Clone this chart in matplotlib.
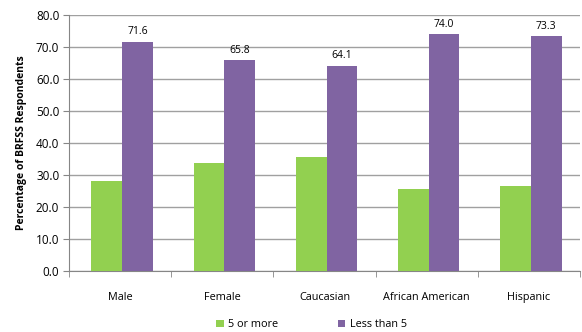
import matplotlib
matplotlib.use("Agg")
import matplotlib.pyplot as plt
import numpy as np

categories = ["Male", "Female", "Caucasian", "African American", "Hispanic"]
five_or_more = [28.0, 33.9, 35.7, 25.6, 26.6]
less_than_5 = [71.6, 65.8, 64.1, 74.0, 73.3]
yticks = [0, 10, 20, 30, 40, 50, 60, 70, 80]

plt.rcParams['font.family'] = ['Open Sans', 'DejaVu Sans']

fig = plt.figure(figsize=(5.82, 3.32), dpi=100)
ax = fig.add_axes([69/582, 1-271/332, 511/582, 256/332])

x = np.arange(len(categories))
w = 0.3
green = "#92d050"
purple = "#8064a2"
ax.bar(x - w/2 + 0.02, five_or_more, width=w, color=green, label="5 or more", zorder=3)
b2 = ax.bar(x + w/2 + 0.02, less_than_5, width=w, color=purple, label="Less than 5", zorder=3)
for rect, v in zip(b2, less_than_5):
    ax.text(rect.get_x() + rect.get_width()/2, v + 1.4, f"{v:.1f}", ha="center", va="bottom", fontsize=7.5)

ax.set_xlim(-0.5, len(categories) - 0.5)
ax.set_ylim(0, 80)
ax.set_yticks(yticks)
ax.set_yticklabels([f"{t:.1f}" for t in yticks], fontsize=8.5)
ax.yaxis.grid(True, color="#a0a0a0", linewidth=1, zorder=0)
ax.set_xticks(x)
ax.set_xticklabels(categories, fontsize=7.8)
ax.tick_params(axis="x", length=0, pad=15)
ax.set_xticks(np.arange(-0.5, len(categories)), minor=True)
ax.tick_params(axis="x", which="minor", length=4, color="#868686")
ax.tick_params(axis="y", length=4, color="#868686", direction="out", pad=3)
for s in ["top", "right"]:
    ax.spines[s].set_visible(False)
ax.spines["left"].set_color("#868686")
ax.spines["bottom"].set_color("#868686")
ax.set_ylabel("Percentage of BRFSS Respondents", fontsize=7.5, fontweight="bold", labelpad=6)

fig.legend(loc="lower center", bbox_to_anchor=(0.535, -0.015), ncol=2, frameon=False,
           fontsize=7.8, handlelength=0.7, handleheight=0.7, columnspacing=5.5, handletextpad=0.4,
           borderaxespad=0.2)

fig.savefig("out.png", dpi=100)
